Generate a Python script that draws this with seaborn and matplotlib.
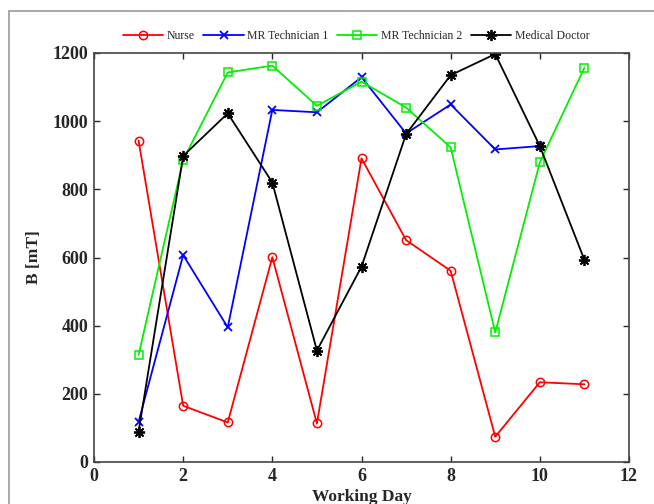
import seaborn as sns
sns.set(style = "ticks", rc={'axes.facecolor':'white', 'figure.facecolor':'white'})
import matplotlib.pyplot as plt
import matplotlib.patches as mpatches
import numpy as np
import pandas as pd

plt.rcParams['font.family'] = ['Liberation Serif', 'DejaVu Serif']

dias = list(range(1, 12))
nurse = [943, 165, 116, 601, 113, 891, 651, 561, 74, 234, 228]
mr_tec1 = [118, 607, 395, 1033, 1026, 1129, 964, 1049, 917, 927]
mr_tec2 = [314, 886, 1143, 1163, 1045, 1116, 1040, 923, 380, 879, 1157]
medico = [89, 898, 1023, 820, 327, 573, 962, 1135, 1197, 927, 593]

nomes = ["Nurse", "MR Technician 1", "MR Technician 2", "Medical Doctor"]
cores = ["red", "blue", "#00f000", "black"]

fig = plt.figure(figsize = (6.54, 5.04), dpi = 100)
axes = fig.add_axes([94/654, 42/504, 535/654, 409/504])

# moldura cinza da figura original
fig.patches.append(mpatches.Rectangle((9/654, -0.1), 1.2, (504-11)/504 + 0.1, transform = fig.transFigure,
                                      fill = False, edgecolor = "#999999", linewidth = 1.2, zorder = 0))

series = [nurse, mr_tec1, mr_tec2, medico]
estilos = [dict(marker = "o", markerfacecolor = "none", markeredgecolor = "red", markersize = 6, markeredgewidth = 1.1),
           dict(marker = "x", markeredgecolor = "blue", markersize = 6, markeredgewidth = 1.3),
           dict(marker = "s", markerfacecolor = "none", markeredgecolor = "#00f000", markersize = 6, markeredgewidth = 1.1),
           dict(marker = (8, 2, 0), markeredgecolor = "black", markersize = 8, markeredgewidth = 1.3)]

for nome, cor, valores, estilo in zip(nomes, cores, series, estilos):
    df = pd.DataFrame({"dia": dias[:len(valores)], "B": valores})
    sns.lineplot(x = "dia", y = "B", data = df, color = cor, label = nome, linewidth = 1.3, ax = axes, **estilo)

axes.set_xlim(0, 12)
axes.set_ylim(0, 1200)
axes.set_xticks(np.arange(0, 13, 2))
axes.set_yticks(np.arange(0, 1201, 200))
axes.tick_params(direction = "in", top = True, right = True, length = 4, width = 1, labelsize = 13, pad = 4)
for lab in axes.get_xticklabels() + axes.get_yticklabels():
    lab.set_fontweight("bold")
for s in axes.spines.values():
    s.set_color("#444444")
    s.set_linewidth(1.2)
axes.set_xlabel("Working Day", fontsize = 12.5, fontweight = "bold", labelpad = 3)
axes.set_ylabel("B [mT]", fontsize = 12.5, fontweight = "bold", labelpad = 8)

axes.legend(loc = "lower center", bbox_to_anchor = (0.49, 1.0), ncol = 4, frameon = False,
            fontsize = 8.5, handlelength = 3.4, columnspacing = 0.75, handletextpad = 0.3, borderaxespad = 0.55)

fig.savefig("out.png", dpi = 100)
